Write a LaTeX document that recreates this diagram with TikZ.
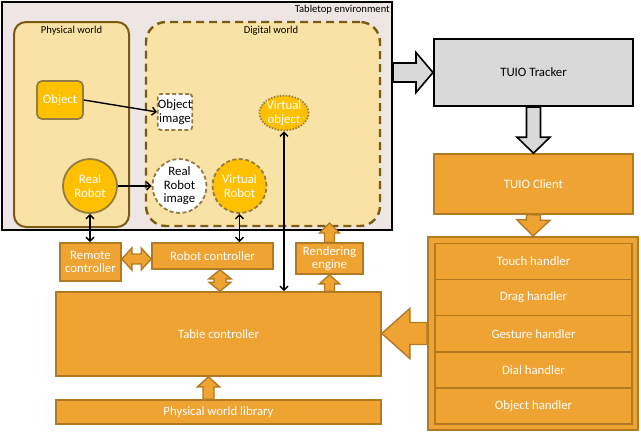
\documentclass[tikz,border=0pt]{standalone}
\usepackage{fontspec}
\setmainfont{Carlito}
\usepackage{tikz}
\usetikzlibrary{
  arrows.meta,      % Straight Barb 箭头
  calc,             % 坐标计算
  shapes.geometric  % 椭圆节点
}

\definecolor{tabbg}{HTML}{EDE6E4}
\definecolor{paleyel}{HTML}{F9E2A5}
\definecolor{gold}{HTML}{FFC000}
\definecolor{olive}{HTML}{7B5B14}
\definecolor{orbox}{HTML}{EFA332}
\definecolor{orline}{HTML}{B27A23}
\definecolor{trkgray}{HTML}{D9D9D9}

% 块状箭头：#2 尾部，#3 尖端，#4 箭杆半宽，#5 箭头半宽，#6 箭头长度
\newcommand{\blockarrow}[6][]{%
  \path ($(#3)!#6!(#2)$) coordinate (ba-h);
  \draw[#1] ($(#2)!#4!90:(#3)$) -- ($(ba-h)!#4!-90:(#2)$) -- ($(ba-h)!#5!-90:(#2)$)
    -- (#3) -- ($(ba-h)!#5!90:(#2)$) -- ($(ba-h)!#4!90:(#2)$) -- ($(#2)!#4!-90:(#3)$) -- cycle;}
% 双向块状箭头
\newcommand{\blockdouble}[6][]{%
  \path ($(#3)!#6!(#2)$) coordinate (bd-a) ($(#2)!#6!(#3)$) coordinate (bd-b);
  \draw[#1] (#2) -- ($(bd-b)!#5!90:(#3)$) -- ($(bd-b)!#4!90:(#3)$) -- ($(bd-a)!#4!-90:(#2)$)
    -- ($(bd-a)!#5!-90:(#2)$) -- (#3) -- ($(bd-a)!#5!90:(#2)$) -- ($(bd-a)!#4!90:(#2)$)
    -- ($(bd-b)!#4!-90:(#3)$) -- ($(bd-b)!#5!-90:(#3)$) -- cycle;}

\begin{document}
\begin{tikzpicture}[x=1pt, y=-1pt,
  >={Straight Barb[length=4pt,width=8pt]},
  txt/.style={font=\fontsize{12.8}{13.5}\selectfont, align=center, inner sep=0pt},
  grouplabel/.style={font=\fontsize{10.6}{12}\selectfont, inner sep=1pt},
  world/.style={draw=olive, fill=paleyel, line width=2pt},
  orange/.style={txt, draw=orline, fill=orbox, line width=1.6pt, text=white},
  goldbox/.style={txt, draw=olive!80, fill=gold, line width=1.8pt, text=white},
  imagebox/.style={txt, draw=olive!80, fill=white, line width=1.8pt, dash pattern=on 4pt off 2.5pt},
  thinarr/.style={line width=1.4pt},
  blkgray/.style={draw=black, fill=trkgray, line width=1.6pt},
  blkorange/.style={draw=orline, fill=orbox, line width=1.4pt}]

  \useasboundingbox (0,0) rectangle (641,432);

  % =========== 桌面环境 ===========
  \node[draw=black, line width=2pt, fill=tabbg, minimum width=390pt, minimum height=228pt] (tabletop) at (197,116) {};
  \node[grouplabel, anchor=north east] (tablabel) at ($(tabletop.north east)+(-2,3)$) {Tabletop environment};

  % 物理世界
  \node[world, rounded corners=12pt, minimum width=115pt, minimum height=205pt] (phys) at (71.5,124.5) {};
  \node[grouplabel] (physlabel) at ($(phys.north)+(0,10)$) {Physical world};
  % 数字世界
  \node[world, rounded corners=20pt, line width=2.4pt, dash pattern=on 8pt off 5pt, minimum width=234pt, minimum height=204pt] (digital) at (263,124) {};
  \node[grouplabel] (diglabel) at ($(digital.north)+(8,10)$) {Digital world};

  \node[goldbox, rounded corners=5pt, minimum width=46pt, minimum height=38pt] (object) at (60,100) {Object};
  \node[imagebox, rounded corners=3pt, minimum width=34pt, minimum height=36pt] (objimg) at (175,112) {Object\\image};
  \node[goldbox, ellipse, dash pattern=on 1.4pt off 1.6pt, minimum width=48pt, minimum height=34pt] (virtobj) at (284,113) {Virtual\\object};
  \node[goldbox, circle, minimum size=54pt] (realrobot) at (90,186) {Real\\Robot};
  \node[imagebox, circle, minimum size=54pt] (rrimg) at (179.5,186) {Real\\Robot\\image};
  \node[goldbox, circle, dash pattern=on 4pt off 2.5pt, minimum size=54pt] (virtrobot) at (239.5,186) {Virtual\\Robot};

  % =========== 控制器 ===========
  \node[orange, minimum width=61pt, minimum height=38pt] (remote) at (90.5,262) {Remote\\controller};
  \node[orange, minimum width=121pt, minimum height=26pt] (robotctl) at (212.5,256) {Robot controller};
  \node[orange, minimum width=67pt, minimum height=31pt] (render) at (329.5,258.5) {Rendering\\engine};
  \node[orange, minimum width=325pt, minimum height=84pt] (table) at (218.5,334) {Table controller};
  \node[orange, minimum width=325pt, minimum height=24pt] (lib) at (218.5,412) {Physical world library};

  % =========== TUIO ===========
  \node[txt, draw=black, fill=trkgray, line width=2pt, minimum width=199pt, minimum height=67pt] (tracker) at (533.5,72.5) {TUIO Tracker};
  \node[orange, minimum width=199pt, minimum height=60pt] (client) at (533.5,184) {TUIO Client};
  \node[orange, line width=2pt, minimum width=210pt, minimum height=193pt] (handlers) at (533,333.5) {};
  \foreach \name [count=\i] in {Touch, Drag, Gesture, Dial, Object}
    \node[orange, minimum width=197pt, minimum height=36.15pt] (h\i) at (533.5, {243.3+36.15*(\i-0.5)}) {\name\ handler};

  % =========== 连线箭头 ===========
  \draw[->, thinarr] (object.east) -- (objimg.west);
  \draw[->, thinarr] (realrobot.east) -- (rrimg.west);
  \draw[<->, thinarr] (realrobot.south) -- (realrobot.south |- remote.north);
  \draw[<->, thinarr] (virtrobot.south) -- (virtrobot.south |- robotctl.north);
  \draw[<->, thinarr] (virtobj.south) -- (virtobj.south |- table.north);

  % =========== 块状箭头 ===========
  \coordinate (trk-in) at (tabletop.east |- tracker.west);
  \blockarrow[blkgray]{trk-in}{tracker.west}{9.5pt}{20pt}{17pt}
  \blockarrow[blkgray]{tracker.south}{client.north}{7pt}{16.5pt}{16pt}
  \blockarrow[blkorange]{client.south}{handlers.north}{7pt}{16.5pt}{16pt}
  \coordinate (tab-in) at (table.east |- handlers.west);
  \blockarrow[blkorange]{handlers.west}{tab-in}{11pt}{25pt}{28pt}
  \coordinate (lib-out) at ($(lib.north)+(-10,0)$);
  \blockarrow[blkorange]{lib-out}{lib-out |- table.south}{5.5pt}{11pt}{10pt}
  \coordinate (ren-in) at (table.north -| render.south);
  \blockarrow[blkorange]{ren-in}{render.south}{5pt}{10pt}{9pt}
  \coordinate (ren-out) at ($(render.north |- tabletop.south)+(0,-8)$);
  \blockarrow[blkorange]{render.north}{ren-out}{5pt}{10pt}{10pt}
  \coordinate (rt-a) at ($(robotctl.south)+(7.5,0)$);
  \blockdouble[blkorange]{rt-a}{rt-a |- table.north}{6pt}{11pt}{9pt}
  \coordinate (rr-a) at ($(remote.east)+(0,-3)$);
  \blockdouble[blkorange]{rr-a}{rr-a -| robotctl.west}{5pt}{11pt}{10pt}

\end{tikzpicture}
\end{document}
